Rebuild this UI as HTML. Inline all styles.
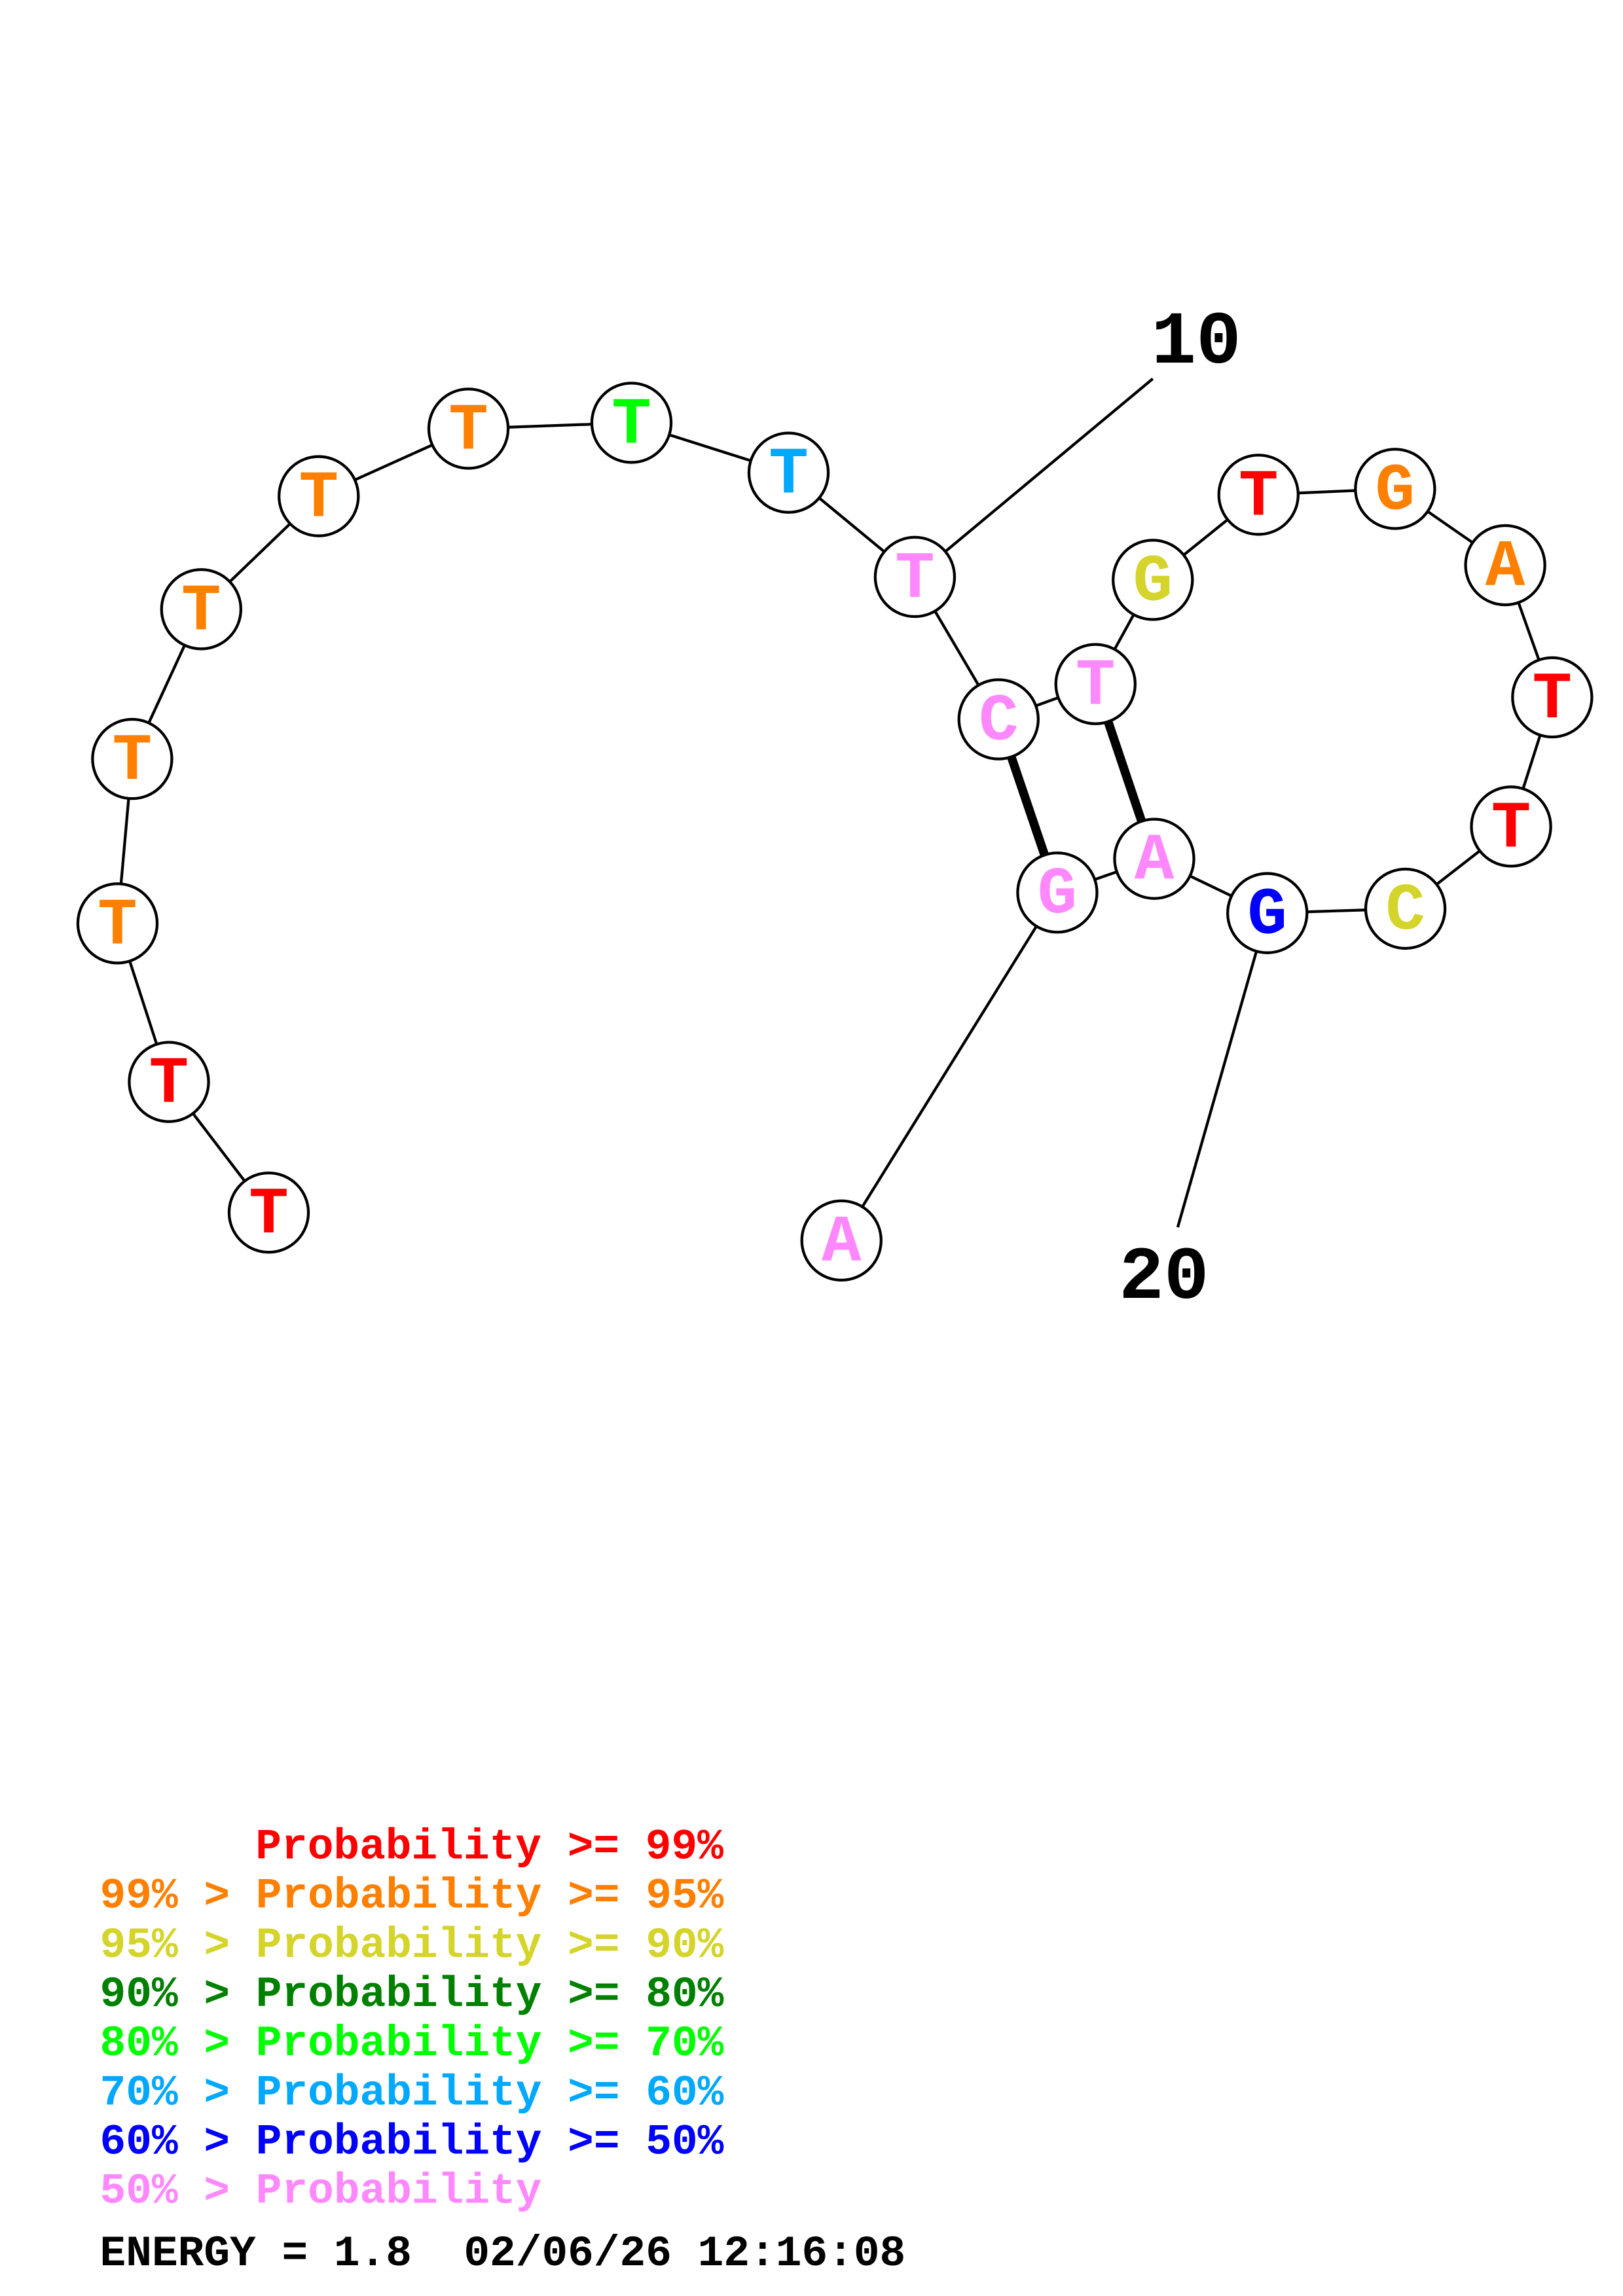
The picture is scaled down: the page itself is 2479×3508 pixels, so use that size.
<!DOCTYPE html>
<html><head><style>html,body{margin:0;padding:0;background:#fff}svg{display:block}text{white-space:pre}</style></head>
<body>
<svg width="2479" height="3508" viewBox="0 0 1105.2 1564" xmlns="http://www.w3.org/2000/svg">
<g stroke="#000" stroke-width="1.9" fill="none">
<polyline points="183,826 115,737 80,629 90,517 137,415 217,338 319,292 430,288 537,322 623,393 680,490 746,466 785,395 857,337 950,333 1025,385 1057,475 1029,563 957,619 863,622 786,585 720,608 573,845"/>
<line x1="623" y1="393" x2="785" y2="258"/>
<line x1="863" y1="622" x2="802" y2="836"/>
</g>
<g stroke="#000" stroke-width="6">
<line x1="680" y1="490" x2="720" y2="608"/>
<line x1="746" y1="466" x2="786" y2="585"/>
</g>
<g font-family="'Liberation Mono',monospace" font-weight="bold" font-size="45" text-anchor="middle">
<g stroke="#000" stroke-width="1.9" fill="#fff">
<circle cx="183" cy="826" r="27"/><circle cx="115" cy="737" r="27"/><circle cx="80" cy="629" r="27"/><circle cx="90" cy="517" r="27"/><circle cx="137" cy="415" r="27"/><circle cx="217" cy="338" r="27"/><circle cx="319" cy="292" r="27"/><circle cx="430" cy="288" r="27"/><circle cx="537" cy="322" r="27"/><circle cx="623" cy="393" r="27"/><circle cx="680" cy="490" r="27"/><circle cx="746" cy="466" r="27"/><circle cx="785" cy="395" r="27"/><circle cx="857" cy="337" r="27"/><circle cx="950" cy="333" r="27"/><circle cx="1025" cy="385" r="27"/><circle cx="1057" cy="475" r="27"/><circle cx="1029" cy="563" r="27"/><circle cx="957" cy="619" r="27"/><circle cx="863" cy="622" r="27"/><circle cx="786" cy="585" r="27"/><circle cx="720" cy="608" r="27"/><circle cx="573" cy="845" r="27"/>
</g>
<g dominant-baseline="central">
<text x="183" y="828" fill="#f00">T</text>
<text x="115" y="739" fill="#f00">T</text>
<text x="80" y="631" fill="#ff7f00">T</text>
<text x="90" y="519" fill="#ff7f00">T</text>
<text x="137" y="417" fill="#ff7f00">T</text>
<text x="217" y="340" fill="#ff7f00">T</text>
<text x="319" y="294" fill="#ff7f00">T</text>
<text x="430" y="290" fill="#0f0">T</text>
<text x="537" y="324" fill="#00a8ff">T</text>
<text x="623" y="395" fill="#ff88ff">T</text>
<text x="680" y="492" fill="#ff88ff">C</text>
<text x="746" y="468" fill="#ff88ff">T</text>
<text x="785" y="397" fill="#d4d42a">G</text>
<text x="857" y="339" fill="#f00">T</text>
<text x="950" y="335" fill="#ff7f00">G</text>
<text x="1025" y="387" fill="#ff7f00">A</text>
<text x="1057" y="477" fill="#f00">T</text>
<text x="1029" y="565" fill="#f00">T</text>
<text x="957" y="621" fill="#d4d42a">C</text>
<text x="863" y="624" fill="#00f">G</text>
<text x="786" y="587" fill="#ff88ff">A</text>
<text x="720" y="610" fill="#ff88ff">G</text>
<text x="573" y="847" fill="#ff88ff">A</text>
</g>
</g>
<g font-family="'Liberation Mono',monospace" font-weight="bold" font-size="51" fill="#000">
<text x="784" y="247">10</text>
<text x="762" y="884">20</text>
</g>
<g font-family="'Liberation Mono',monospace" font-weight="bold" font-size="29.5">
<text x="174" y="1266" fill="#f00">Probability &gt;= 99%</text>
<text x="68" y="1299.5" fill="#ff7f00">99% &gt; Probability &gt;= 95%</text>
<text x="68" y="1333" fill="#d4d42a">95% &gt; Probability &gt;= 90%</text>
<text x="68" y="1366.5" fill="#008000">90% &gt; Probability &gt;= 80%</text>
<text x="68" y="1400" fill="#0f0">80% &gt; Probability &gt;= 70%</text>
<text x="68" y="1433.5" fill="#00a8ff">70% &gt; Probability &gt;= 60%</text>
<text x="68" y="1467" fill="#00f">60% &gt; Probability &gt;= 50%</text>
<text x="68" y="1500.5" fill="#ff88ff">50% &gt; Probability</text>
<text x="68" y="1543" fill="#000">ENERGY = 1.8  02/06/26 12:16:08</text>
</g>
</svg>
</body></html>
